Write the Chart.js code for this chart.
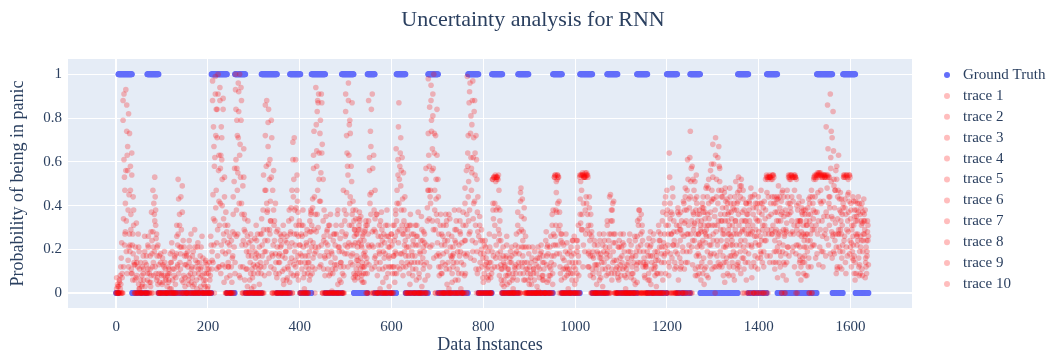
<!DOCTYPE html>
<html lang="en">
<head>
  <meta charset="UTF-8" />
  <title>Uncertainty analysis for RNN</title>
  <script src="https://cdn.jsdelivr.net/npm/chart.js"></script>
  <style>
    body { margin: 0; background: #fff; }
    .wrap { position: relative; width: 1054px; height: 356px; }
  </style>
</head>
<body>
  <div class="wrap"><canvas id="chartRNN"></canvas></div>

  <script>
    // data instances 0..1639, ground truth panic ranges (value 1 inside, 0 outside)
    const nInstances = 1640;
    const gtOnes = [[5,34],[68,92],[208,241],[259,281],[317,350],[379,401],[426,455],[492,517],[548,563],[611,630],
      [680,701],[767,789],[819,841],[876,898],[952,971],[1011,1037],[1070,1092],[1135,1157],[1200,1222],[1251,1272],
      [1355,1377],[1418,1440],[1527,1560],[1584,1610]];

    // predicted probability (percent), one value per 5 instances, one line per 100 instances
    const trace1 = [
      0,3,12,88,41,67,22,9,0,14,2,0,6,0,21,3,47,12,0,5,
      4,0,0,11,2,0,7,52,18,0,3,0,16,0,4,0,9,1,0,6,
      0,8,97,62,84,31,71,5,0,12,0,44,93,27,68,0,6,0,19,2,
      3,0,17,0,38,86,24,61,0,33,7,0,22,4,0,11,0,69,15,42,
      0,26,2,0,14,37,57,94,30,79,0,8,0,31,1,0,13,0,5,47,
      91,54,73,18,6,27,9,21,5,0,88,36,0,17,0,2,24,0,38,3,
      0,12,66,23,71,8,0,29,4,0,14,0,7,35,0,52,98,47,81,0,
      23,0,9,0,33,2,0,18,0,6,27,0,48,99,38,77,15,0,11,0,
      5,0,19,0,52,31,53,8,0,3,0,11,0,2,0,37,9,43,0,14,
      0,4,0,13,1,0,8,0,22,0,36,53,18,0,6,0,27,2,0,9,
      0,21,54,29,53,41,12,0,7,0,18,0,3,0,31,44,6,0,15,0,
      8,0,2,0,19,0,26,5,38,0,0,12,0,4,24,0,9,0,33,41,
      47,12,0,28,0,6,37,0,44,61,19,58,24,41,9,33,16,48,7,56,
      68,0,31,57,12,46,22,8,37,19,51,14,44,0,29,0,41,7,0,26,
      0,18,39,52,0,53,27,11,44,23,0,35,6,54,52,21,53,38,15,42,
      17,8,0,31,53,54,33,55,12,53,86,39,71,18,58,27,43,53,9,52,
      21,44,6,33,13,41,27,9
    ];
    const trace2 = [
      2,0,0,34,93,15,58,27,6,0,11,3,0,17,0,8,21,38,4,0,
      0,14,3,0,23,8,0,9,44,5,0,19,0,7,29,2,0,12,4,0,
      9,0,45,99,17,88,40,53,7,0,24,0,61,96,12,49,28,3,0,11,
      0,24,0,9,54,19,78,33,47,0,0,18,0,27,6,0,39,8,61,17,
      18,0,0,29,6,21,74,28,91,13,52,0,22,0,11,27,0,19,0,8,
      36,96,14,42,23,7,33,12,28,14,21,84,63,0,26,0,5,18,0,21,
      22,31,9,87,38,55,17,0,36,8,0,26,0,3,19,14,63,95,29,72,
      0,31,0,24,4,0,16,0,29,0,2,37,9,58,96,24,88,52,0,20,
      0,16,0,7,38,54,12,33,4,0,22,0,14,0,9,0,46,17,6,0,
      12,0,6,0,0,19,0,24,0,8,4,26,54,37,0,15,0,0,21,0,
      14,0,36,55,19,54,39,26,0,11,0,7,0,21,0,17,38,9,0,24,
      0,22,0,14,0,9,4,33,0,28,8,0,25,0,0,15,0,27,6,18,
      19,53,36,0,31,0,14,42,0,27,74,13,51,8,36,21,4,29,52,18,
      24,71,62,13,39,5,43,31,17,41,22,53,9,47,14,36,0,28,45,0,
      33,0,12,24,53,41,54,28,7,39,46,0,32,17,54,53,0,9,33,14,
      36,27,41,0,22,53,55,41,54,29,54,91,26,47,11,38,16,24,54,37,
      38,15,42,24,36,8,33,19
    ];
    const trace3 = [
      0,6,23,61,19,82,36,44,21,0,0,12,26,0,5,37,8,25,0,18,
      13,0,8,2,0,16,31,0,29,0,18,6,0,3,0,21,0,26,9,0,
      0,22,76,39,100,57,13,31,0,26,5,21,38,83,94,24,0,33,0,7,
      25,0,4,34,0,58,84,12,22,41,29,0,10,0,23,38,16,52,31,6,
      0,38,17,0,33,9,18,65,52,91,24,35,0,9,0,16,36,0,28,0,
      72,23,58,7,38,15,24,5,17,31,56,11,29,36,0,22,0,31,9,0,
      9,5,41,52,14,33,0,21,0,24,31,0,18,0,27,0,34,74,100,43,
      44,12,26,0,0,34,5,0,14,38,0,13,31,72,16,97,54,9,35,0,
      22,0,8,0,17,51,39,16,0,12,0,5,21,0,27,14,0,28,0,9,
      0,21,0,3,16,0,11,0,6,26,0,54,41,12,23,0,8,14,0,18,
      6,31,51,12,55,36,24,0,22,4,0,16,27,0,12,0,41,23,0,11,
      17,0,11,0,7,0,0,21,14,0,0,22,6,0,11,3,28,0,0,9,
      0,34,48,11,22,31,0,26,33,0,51,37,11,33,22,41,28,8,34,42,
      43,28,14,36,27,33,9,48,24,6,38,31,52,21,41,14,29,0,17,33,
      22,41,0,54,35,52,14,41,26,12,19,27,47,53,33,54,22,27,6,31,
      8,39,24,44,54,18,53,54,35,76,22,57,83,32,44,12,31,54,29,54,
      12,31,27,44,21,37,7,28
    ];
    const trace4 = [
      4,0,7,22,74,45,11,31,0,27,6,0,14,9,0,18,36,6,13,0,
      0,7,0,18,6,0,12,36,0,21,0,4,27,0,15,0,17,0,0,13,
      14,0,22,84,56,9,89,18,23,0,16,57,79,8,41,66,0,17,9,0,
      0,13,0,22,19,41,9,79,56,14,0,24,0,16,0,5,47,27,8,31,
      27,7,0,14,24,43,0,83,12,64,38,0,17,0,24,0,4,25,0,33,
      18,77,31,33,11,29,16,27,9,0,41,91,12,0,19,37,0,0,26,12,
      0,26,28,11,62,19,31,0,14,0,22,37,0,24,6,33,85,22,64,17,
      12,0,18,36,0,21,0,29,0,17,9,0,56,33,81,62,31,28,0,24,
      0,11,27,0,53,22,54,24,17,0,8,16,0,12,0,28,35,6,21,0,
      7,0,15,0,0,8,0,17,0,14,22,31,53,0,0,11,0,19,6,0,
      0,14,54,41,27,53,8,17,0,19,6,0,14,8,24,33,19,0,7,16,
      0,12,0,24,0,14,19,0,27,12,13,0,0,17,0,9,0,14,23,0,
      31,0,22,0,37,16,27,11,19,43,0,29,38,18,31,9,37,44,26,11,
      12,52,47,24,8,42,36,17,31,44,13,47,28,38,6,27,48,39,23,11,
      41,29,24,17,53,29,53,19,49,33,8,0,21,41,53,12,40,44,28,9,
      27,12,36,22,37,55,21,53,54,54,41,74,19,56,27,46,22,39,53,18,
      29,9,35,16,39,24,14,31
    ];
    const trace5 = [
      0,2,0,47,9,27,64,14,32,4,0,17,0,22,11,0,53,17,0,9,
      8,0,12,0,0,4,22,14,49,13,0,24,5,0,0,11,3,0,14,2,
      0,15,58,11,42,76,27,0,14,0,28,9,47,100,22,36,19,0,24,0,
      16,0,27,0,47,29,52,18,31,0,14,0,31,0,12,27,0,38,47,22,
      11,0,23,0,38,16,36,47,73,0,17,28,0,19,0,31,0,12,0,26,
      58,41,87,26,15,34,6,18,31,22,74,0,47,8,31,0,16,0,17,27,
      17,38,54,64,27,44,0,13,27,0,6,0,24,11,0,47,21,66,38,84,
      0,22,0,11,27,0,21,6,0,28,0,24,0,87,57,41,72,0,18,7,
      13,0,0,19,26,53,47,11,0,16,0,0,9,18,0,0,21,34,0,18,
      0,9,0,21,0,14,0,5,12,0,17,46,29,24,11,0,18,0,14,4,
      19,0,29,53,44,18,31,9,0,0,24,11,0,16,0,38,27,0,21,0,
      11,0,16,0,12,0,13,38,0,19,0,6,17,0,19,0,21,0,14,36,
      8,27,0,19,0,24,0,38,27,0,33,47,17,27,6,44,23,36,14,31,
      35,17,58,44,21,14,29,41,8,33,46,22,37,0,36,42,12,0,34,22,
      16,0,34,53,14,54,44,33,14,42,29,18,41,27,19,53,0,14,37,24,
      33,43,12,38,16,54,42,26,53,48,53,28,49,9,63,33,39,14,45,53,
      16,38,22,8,31,43,21,13
    ];
    const trace6 = [
      0,0,4,79,28,56,19,22,0,8,19,0,11,0,26,5,28,44,7,0,
      0,19,0,6,14,0,0,27,11,0,7,0,21,12,0,6,0,21,0,15,
      3,0,88,33,71,12,61,24,0,19,0,36,100,55,7,0,34,11,0,17,
      9,31,0,12,0,72,38,27,0,24,0,9,26,0,19,0,28,61,22,9,
      0,17,9,22,11,28,63,19,87,42,0,16,29,0,18,0,27,0,14,0,
      83,12,44,13,29,9,37,8,24,0,33,67,21,28,0,14,0,23,0,16,
      27,17,18,76,49,12,24,0,0,17,0,31,9,0,28,57,73,41,91,29,
      33,17,0,0,19,36,0,14,23,0,19,0,41,18,92,55,83,61,26,0,
      0,21,12,0,52,41,53,27,0,6,17,0,0,7,22,31,0,12,14,0,
      4,0,11,0,12,0,17,0,0,21,31,53,37,42,0,22,0,9,0,24,
      0,24,53,36,54,55,19,0,16,0,13,0,22,0,33,21,11,15,0,6,
      0,27,0,9,0,17,0,26,34,0,16,0,9,22,0,12,0,24,0,27,
      0,64,27,33,12,0,29,19,48,14,62,0,32,44,17,28,39,12,48,37,
      53,38,22,51,33,27,16,37,26,12,33,42,19,29,24,0,33,21,0,39,
      28,47,0,38,52,17,52,24,37,19,0,44,28,53,37,42,53,31,21,36,
      14,31,0,47,52,31,54,47,19,54,35,44,16,39,52,21,27,54,36,28,
      34,26,14,41,19,11,36,24
    ];
    const trace7 = [
      7,0,16,12,56,38,47,6,13,0,2,8,0,13,0,28,14,31,22,0,
      16,0,0,9,0,11,18,43,0,24,0,12,0,17,9,0,14,0,6,0,
      0,26,14,91,29,94,52,44,28,0,12,0,84,71,53,12,0,26,6,0,
      0,18,11,0,29,47,67,42,17,0,21,14,0,11,0,33,9,44,12,37,
      22,0,14,0,19,31,29,77,21,55,33,0,11,26,0,13,0,21,31,12,
      27,88,22,38,8,21,29,14,12,16,13,46,0,0,22,33,11,0,31,0,
      0,24,33,41,56,27,12,26,0,11,17,0,0,29,13,22,47,88,57,0,
      52,0,14,22,0,11,26,0,33,9,0,31,24,64,28,88,42,19,0,29,
      18,0,6,14,41,53,18,38,11,0,26,9,0,0,13,21,42,24,0,11,
      0,16,0,9,0,22,6,0,18,0,9,54,52,18,27,0,12,0,9,0,
      11,0,43,54,53,29,44,28,0,13,0,18,0,11,19,0,33,0,12,21,
      21,0,7,19,0,0,24,0,19,31,0,14,0,11,27,0,15,0,37,21,
      38,0,16,24,0,36,12,0,14,52,44,24,43,21,38,14,31,26,41,22,
      27,63,41,19,44,36,24,12,34,27,18,36,24,43,19,31,0,44,26,0,
      37,24,19,0,44,53,31,37,21,44,37,26,14,36,54,27,18,22,33,16,
      26,19,33,0,29,54,13,54,42,17,66,18,34,24,12,43,11,53,21,46,
      41,22,33,27,9,32,29,17
    ];
    const trace8 = [
      0,5,0,91,33,12,29,18,0,12,0,4,19,0,9,0,41,9,0,14,
      5,11,0,0,19,0,26,0,21,8,13,0,9,0,21,14,0,8,0,9,
      11,0,34,72,91,41,19,12,0,22,0,51,26,92,79,0,22,0,14,21,
      19,0,21,27,12,14,59,33,0,18,0,27,17,0,26,0,34,13,39,26,
      14,31,0,9,28,12,44,58,64,22,11,23,0,36,9,22,0,6,19,38,
      46,63,17,22,34,13,11,26,19,9,62,22,38,14,0,26,19,12,0,24,
      12,9,47,29,18,38,0,17,31,22,0,14,19,0,23,0,58,79,16,52,
      18,36,0,13,24,0,9,38,0,22,14,0,17,44,73,19,64,37,31,12,
      9,14,0,0,34,16,52,19,0,13,4,0,17,0,19,12,48,9,26,0,
      0,0,19,0,7,0,14,28,0,11,38,22,54,31,0,7,23,0,17,12,
      0,17,32,54,38,54,27,11,24,0,9,0,19,0,9,45,14,27,0,0,
      14,19,0,0,22,0,17,14,0,24,7,19,0,14,0,17,31,9,0,44,
      22,41,0,14,28,0,33,41,0,31,27,52,8,36,23,39,11,49,31,59,
      59,12,33,29,17,48,41,27,14,38,27,12,49,16,33,22,44,31,12,41,
      0,36,42,53,27,36,54,14,43,28,47,13,36,52,44,31,52,41,12,27,
      38,24,44,29,53,37,55,19,54,37,53,62,27,47,34,19,36,26,54,42,
      23,42,9,37,26,19,38,33
    ];
    const trace9 = [
      3,0,9,53,86,21,9,38,7,0,14,0,3,6,0,24,19,27,9,0,
      0,6,9,0,11,17,0,31,6,0,17,8,0,19,0,23,7,0,0,11,
      0,11,67,47,12,63,84,0,31,8,0,27,57,41,88,53,11,0,27,0,
      12,27,0,17,8,88,16,53,38,9,0,21,0,24,7,21,23,71,27,14,
      0,21,27,17,8,39,11,36,42,87,26,0,31,14,0,11,38,0,9,18,
      64,31,51,9,27,23,35,9,29,0,45,28,16,36,11,0,27,7,21,0,
      31,19,12,58,31,22,21,9,0,27,11,22,0,16,0,39,12,56,73,36,
      27,9,31,0,14,0,17,24,11,0,23,18,0,51,62,34,23,44,14,0,
      0,7,14,9,53,38,29,13,21,0,11,14,6,0,0,18,29,21,11,6,
      9,0,0,16,11,0,0,13,8,0,27,38,22,9,16,0,0,11,0,26,
      24,8,54,22,53,12,17,0,13,0,27,14,0,18,0,27,23,0,9,13,
      0,8,13,0,16,6,0,31,22,0,12,0,21,0,13,0,24,18,0,31,
      27,18,44,0,18,29,0,32,38,22,57,36,27,12,29,24,34,19,22,47,
      18,44,67,33,29,21,33,44,22,17,41,27,33,11,41,18,27,36,41,16,
      26,14,31,46,54,27,41,29,33,17,22,38,44,54,28,47,29,33,26,38,
      21,36,27,41,44,27,54,33,53,25,44,51,65,27,47,29,19,43,17,54,
      31,17,38,12,33,27,16,24
    ];
    const trace10 = [
      0,8,0,27,63,73,54,13,16,21,0,9,0,11,17,12,33,21,17,8,
      12,0,5,14,0,0,13,21,37,17,0,14,11,0,12,0,11,16,3,0,
      6,19,0,23,63,22,34,37,12,0,17,14,72,63,36,29,0,23,0,13,
      0,9,14,0,24,37,29,71,11,28,17,0,6,19,0,14,0,19,54,33,
      31,0,12,0,36,23,21,88,17,68,0,19,8,0,27,0,21,14,0,22,
      21,79,36,29,17,31,22,12,33,27,0,57,34,0,18,29,0,26,12,0,
      0,36,61,18,43,29,14,31,19,0,26,0,14,21,0,8,44,33,47,63,
      8,27,0,31,0,17,12,0,19,33,0,8,36,27,47,71,11,0,24,16,
      24,0,21,11,12,52,24,6,14,8,0,19,0,11,6,0,14,39,0,21,
      14,11,0,0,18,6,0,21,0,17,13,51,53,27,0,19,11,0,24,0,
      9,0,47,53,54,31,36,19,0,22,16,0,24,0,27,9,42,11,0,27,
      23,0,0,27,9,0,11,0,36,14,0,17,28,0,8,19,0,21,17,0,
      14,37,22,0,39,11,21,0,47,39,21,31,54,27,12,37,27,31,17,43,
      31,24,12,47,14,39,27,22,39,29,11,49,16,33,27,38,22,14,29,44,
      19,31,27,29,53,44,19,43,27,36,14,29,21,39,53,54,33,17,39,21,
      31,16,21,34,52,46,29,53,27,53,31,35,52,21,29,37,41,53,33,24,
      19,35,26,41,24,33,12,26
    ];

    const traces = [trace1, trace2, trace3, trace4, trace5, trace6, trace7, trace8, trace9, trace10];
    const traceNames = traces.map((t, i) => "trace " + (i + 1));
    const xTicks = [0, 200, 400, 600, 800, 1000, 1200, 1400, 1600];
    const yTicks = [0, 0.2, 0.4, 0.6, 0.8, 1];

    const titleText = "Uncertainty analysis for RNN";
    const textColor = "#2a3f5f";
    const gtColor = "#636efa";
    const traceColor = "rgba(255,0,0,0.26)";

    // ground truth points
    const gtPoints = [];
    for (let i = 0; i < nInstances; i++) {
      const inPanic = gtOnes.some(s => i >= s[0] && i <= s[1]);
      gtPoints.push({ x: i, y: inPanic ? 1 : 0 });
    }

    const datasets = [{
      label: "Ground Truth",
      data: gtPoints,
      backgroundColor: gtColor,
      borderWidth: 0,
      pointRadius: 3,
      order: 1
    }];
    traces.forEach((vals, t) => {
      datasets.push({
        label: traceNames[t],
        data: vals.map((v, j) => ({ x: j * 5 + (t % 5), y: v / 100 })),
        backgroundColor: traceColor,
        borderWidth: 0,
        pointRadius: 2.8,
        order: 0
      });
    });

    // plot background, title over the full width, right side legend
    const plotDecor = {
      id: "plotDecor",
      beforeDraw(chart) {
        const a = chart.chartArea;
        const ctx = chart.ctx;
        ctx.save();
        ctx.fillStyle = "#e5ecf6";
        ctx.fillRect(a.left, a.top, a.right - a.left, a.bottom - a.top);
        ctx.restore();
      },
      afterDraw(chart) {
        const ctx = chart.ctx;
        ctx.save();
        ctx.fillStyle = textColor;
        ctx.font = '22px "Liberation Serif"';
        ctx.textAlign = "center";
        ctx.textBaseline = "middle";
        ctx.fillText(titleText, 533, 20);

        ctx.textAlign = "left";
        ctx.font = '15px "Liberation Serif"';
        chart.data.datasets.forEach((ds, i) => {
          const y = 75 + i * 20.9;
          ctx.beginPath();
          ctx.arc(947, y, 3, 0, Math.PI * 2);
          ctx.fillStyle = ds.backgroundColor;
          ctx.fill();
          ctx.fillStyle = textColor;
          ctx.fillText(ds.label, 963, y);
        });
        ctx.restore();
      }
    };

    Chart.defaults.font.family = '"Liberation Serif", serif';
    Chart.defaults.color = textColor;

    new Chart(document.getElementById("chartRNN"), {
      type: "scatter",
      data: { datasets },
      options: {
        responsive: true,
        maintainAspectRatio: false,
        animation: false,
        events: [],
        layout: { padding: { left: 0, right: 142, top: 59, bottom: 0 } },
        plugins: {
          legend: { display: false },
          tooltip: { enabled: false },
          title: { display: false }
        },
        scales: {
          x: {
            type: "linear",
            min: -105,
            max: 1734,
            afterFit(scale) { scale.height = 48; },
            afterBuildTicks(scale) { scale.ticks = xTicks.map(v => ({ value: v })); },
            ticks: { font: { size: 15 }, color: textColor, padding: 10, callback: v => String(v) },
            grid: {
              color: "#ffffff",
              lineWidth: c => (c.tick && c.tick.value === 0 ? 2 : 1),
              drawTicks: false
            },
            border: { display: false },
            title: {
              display: true,
              text: "Data Instances",
              color: textColor,
              font: { size: 18 },
              padding: { top: 0, bottom: 0 }
            }
          },
          y: {
            min: -0.068,
            max: 1.07,
            afterFit(scale) { scale.width = 68; },
            afterBuildTicks(scale) { scale.ticks = yTicks.map(v => ({ value: v })); },
            ticks: {
              font: { size: 15 },
              color: textColor,
              padding: 6,
              callback: v => String(Number(v.toFixed(1)))
            },
            grid: {
              color: "#ffffff",
              lineWidth: c => (c.tick && c.tick.value === 0 ? 2 : 1),
              drawTicks: false
            },
            border: { display: false },
            title: {
              display: true,
              text: "Probability of being in panic",
              color: textColor,
              font: { size: 18 },
              padding: { top: 7, bottom: 0 }
            }
          }
        }
      },
      plugins: [plotDecor]
    });
  </script>
</body>
</html>
